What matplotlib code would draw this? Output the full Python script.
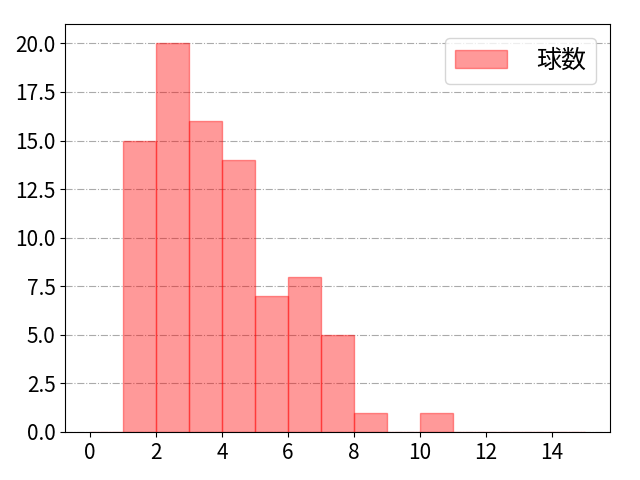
import matplotlib
matplotlib.use('Agg')
import matplotlib.pyplot as plt
import numpy as np

plt.rcParams['font.family'] = ['Noto Sans CJK JP', 'DejaVu Sans']
plt.rcParams['font.size'] = 15

# pitch-count histogram
bin_edges = list(range(0, 16))
counts = [0, 15, 20, 16, 14, 7, 8, 5, 1, 0, 1, 0, 0, 0, 0]
label = '球数'

fig, ax = plt.subplots(figsize=(6.4, 4.8), dpi=100)
ax.hist(bin_edges[:-1], bins=bin_edges, weights=counts,
        color='red', alpha=0.4, ec='red', label=label)
ax.set_xticks(np.arange(0, 15, 2))
ax.yaxis.grid(True, linestyle='-.', color='#aaaaaa')
ax.set_axisbelow(True)
ax.legend(loc='upper right', fontsize=18, handlelength=2.1,
          handletextpad=1.15, borderaxespad=0.55)
fig.subplots_adjust(left=0.102, right=0.953, top=0.95, bottom=0.1)
fig.savefig('out.png')
